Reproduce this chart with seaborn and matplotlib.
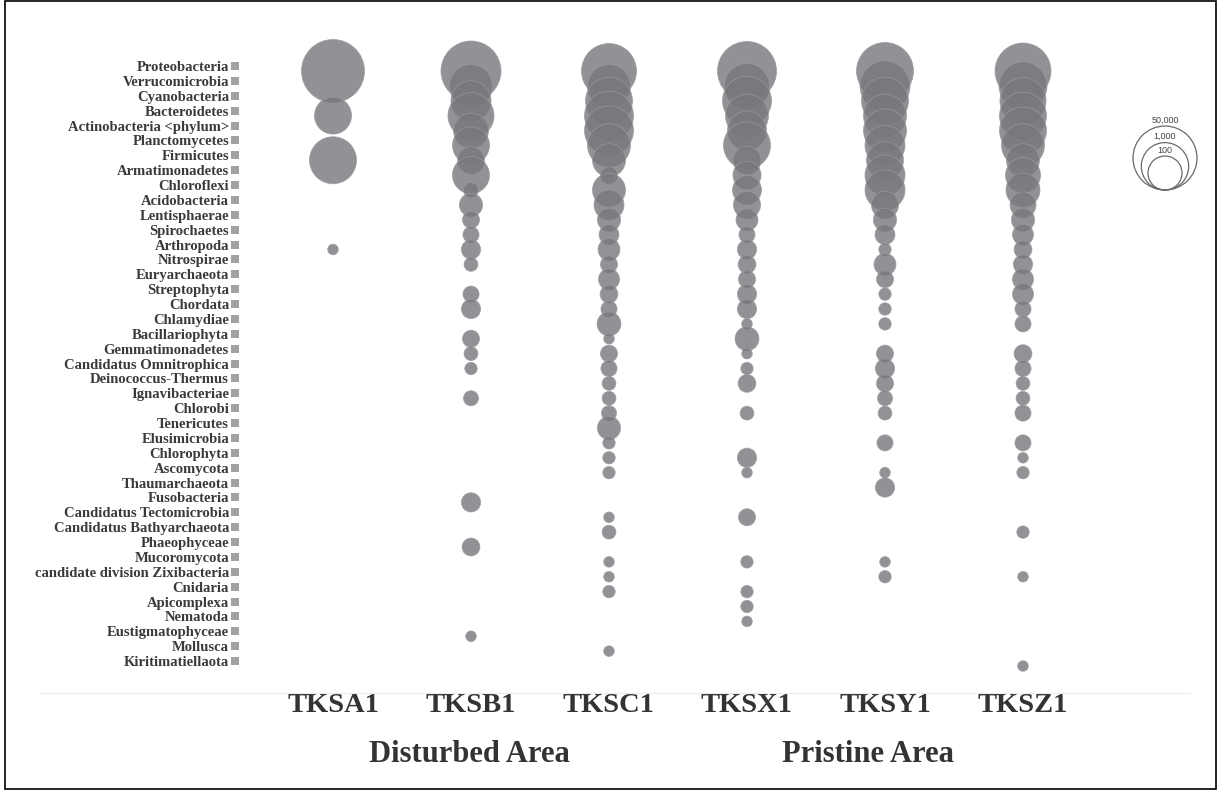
import numpy as np
import pandas as pd
import matplotlib
matplotlib.use("Agg")
import matplotlib.pyplot as plt
import matplotlib.transforms as mtransforms
from matplotlib.lines import Line2D
from matplotlib.patches import Rectangle
import seaborn as sns

# ---------------- data ----------------
phyla = [
    "Proteobacteria", "Verrucomicrobia", "Cyanobacteria", "Bacteroidetes",
    "Actinobacteria <phylum>", "Planctomycetes", "Firmicutes", "Armatimonadetes",
    "Chloroflexi", "Acidobacteria", "Lentisphaerae", "Spirochaetes", "Arthropoda",
    "Nitrospirae", "Euryarchaeota", "Streptophyta", "Chordata", "Chlamydiae",
    "Bacillariophyta", "Gemmatimonadetes", "Candidatus Omnitrophica",
    "Deinococcus-Thermus", "Ignavibacteriae", "Chlorobi", "Tenericutes",
    "Elusimicrobia", "Chlorophyta", "Ascomycota", "Thaumarchaeota", "Fusobacteria",
    "Candidatus Tectomicrobia", "Candidatus Bathyarchaeota", "Phaeophyceae",
    "Mucoromycota", "candidate division Zixibacteria", "Cnidaria", "Apicomplexa",
    "Nematoda", "Eustigmatophyceae", "Mollusca", "Kiritimatiellaota",
]
samples = ["TKSA1", "TKSB1", "TKSC1", "TKSX1", "TKSY1", "TKSZ1"]
groups = ["Disturbed Area", "Pristine Area"]
legend_values = [50000, 1000, 100]
legend_labels = ["50,000", "1,000", "100"]

# estimated read counts per phylum (0 = not detected), in the order of `phyla`
tksa1 = [38300, 0, 0, 157, 0, 0, 927, 0, 0, 0, 0, 0, 11, 0, 0, 0, 0, 0, 0, 0,
         0, 0, 0, 0, 0, 0, 0, 0, 0, 0, 0, 0, 0, 0, 0, 0, 0, 0, 0, 0, 0]
tksb1 = [17540, 433, 256, 761, 116, 157, 41, 157, 14, 27, 16, 15, 19, 13, 0, 15, 19, 0, 16, 13,
         12, 0, 14, 0, 0, 0, 0, 0, 0, 19, 0, 0, 17, 0, 0, 0, 0, 0, 11, 0, 0]
tksc1 = [5200, 433, 927, 1390, 1390, 433, 87, 16, 87, 58, 27, 20, 24, 16, 22, 17, 15, 29, 11, 16,
         15, 13, 13, 14, 27, 12, 12, 12, 0, 0, 11, 13, 0, 11, 11, 12, 0, 0, 0, 11, 0]
tksx1 = [13650, 628, 1390, 433, 216, 927, 46, 46, 51, 41, 24, 15, 19, 17, 16, 19, 19, 11, 29, 11,
         12, 17, 0, 13, 0, 0, 19, 11, 0, 0, 16, 0, 0, 12, 0, 12, 12, 11, 0, 0, 0]
tksy1 = [8340, 1714, 927, 433, 433, 256, 157, 256, 256, 41, 27, 20, 12, 24, 16, 12, 12, 12, 0, 16,
         19, 16, 14, 13, 0, 15, 0, 11, 19, 0, 0, 0, 0, 11, 12, 0, 0, 0, 0, 0, 0]
tksz1 = [6560, 1133, 761, 927, 927, 433, 87, 116, 100, 36, 27, 22, 17, 19, 22, 22, 15, 15, 0, 17,
         15, 13, 13, 15, 0, 15, 11, 12, 0, 0, 0, 12, 0, 0, 11, 0, 0, 0, 0, 0, 11]

counts = {"TKSA1": tksa1, "TKSB1": tksb1, "TKSC1": tksc1,
          "TKSX1": tksx1, "TKSY1": tksy1, "TKSZ1": tksz1}

records = []
for s in samples:
    for p, v in zip(phyla, counts[s]):
        if v > 0:
            records.append((s, p, v))
df = pd.DataFrame(records, columns=["sample", "phylum", "reads"])
df["xpos"] = pd.Categorical(df["sample"], categories=samples).codes
df["ypos"] = pd.Categorical(df["phylum"], categories=phyla).codes
df["logreads"] = np.log10(df["reads"])

# ---------------- figure ----------------
W, H, DPI = 1219, 792, 100
sns.set_style("white")
plt.rcParams["font.family"] = ["Liberation Serif", "DejaVu Serif"]

fig = plt.figure(figsize=(W / DPI, H / DPI), dpi=DPI)
fig.patch.set_facecolor("white")


def px_axes(l, t, r, b):
    return [l / W, 1 - b / H, (r - l) / W, (b - t) / H]


ax = fig.add_axes(px_axes(264, 40, 1092, 690))

SIZE_RANGE = (34.5, 2292.5)   # marker area (pt^2)
LOG_NORM = (1.0, 5.0)         # log10(reads) range mapped onto SIZE_RANGE
BUBBLE = "#77777c"

sns.scatterplot(data=df, x="xpos", y="ypos", size="logreads",
                sizes=SIZE_RANGE, size_norm=LOG_NORM,
                color=BUBBLE, alpha=0.8, edgecolor="#9a9a9e", linewidth=0.6,
                legend=False, ax=ax, clip_on=False, zorder=3)

ax.set_xlim(-0.5, 5.5)
ax.set_ylim(41.613, -2.084)
ax.set_xticks(range(len(samples)), samples)
ax.set_yticks(range(len(phyla)), phyla)
ax.set_xlabel("")
ax.set_ylabel("")
for sp in ax.spines.values():
    sp.set_visible(False)
ax.grid(False)

ax.tick_params(axis="y", length=0, pad=25.2, labelsize=10.5, labelcolor="#3a3a3a")
ax.tick_params(axis="x", length=0, pad=2, labelsize=20.5, labelcolor="#333333")

label_shift = mtransforms.ScaledTranslation(0, 5 / DPI, fig.dpi_scale_trans)
for t in ax.get_yticklabels():
    t.set_fontweight("bold")
    t.set_transform(t.get_transform() + label_shift)
for t in ax.get_xticklabels():
    t.set_fontweight("bold")

# small grey squares next to the phylum names
sq_trans = mtransforms.offset_copy(ax.get_yaxis_transform(), fig=fig, x=0, y=5, units="dots")
ax.scatter(np.full(len(phyla), (235 - 264) / 828), np.arange(len(phyla)),
           marker="s", s=40, color="#a2a2a2", linewidths=0,
           transform=sq_trans, clip_on=False)

# group labels
fig.text(469 / W, 1 - 755 / H, groups[0], ha="center", va="center",
         fontsize=22, fontweight="bold", color="#333333")
fig.text(868 / W, 1 - 755 / H, groups[1], ha="center", va="center",
         fontsize=22, fontweight="bold", color="#333333")

# size legend (nested circles)
leg = fig.add_axes(px_axes(1120, 100, 1210, 195))
leg.set_xlim(0, 90)
leg.set_ylim(0, 95)
leg.axis("off")


def marker_area(v):
    n = (np.log10(v) - LOG_NORM[0]) / (LOG_NORM[1] - LOG_NORM[0])
    return SIZE_RANGE[0] + n * (SIZE_RANGE[1] - SIZE_RANGE[0])


for v, lab in zip(legend_values, legend_labels):
    s = marker_area(v)
    r_px = np.sqrt(s) * DPI / 72 / 2
    leg.scatter([45], [5 + r_px], s=s, facecolors="none", edgecolors="#6a6a6a",
                linewidths=0.9, clip_on=False)
    leg.text(45, 5 + 2 * r_px + 1.5, lab, ha="center", va="bottom",
             fontsize=6.5, color="#444444", family=["Liberation Sans", "DejaVu Sans"])

# faint separator and image border
fig.add_artist(Line2D([40 / W, 1190 / W], [1 - 693 / H, 1 - 693 / H],
                      color="#ececec", lw=0.8))
fig.add_artist(Rectangle((5 / W, 1 - 789 / H), 1211 / W, 788 / H, fill=False,
                         edgecolor="black", lw=1.2, transform=fig.transFigure))

fig.savefig("out.png", dpi=DPI)
